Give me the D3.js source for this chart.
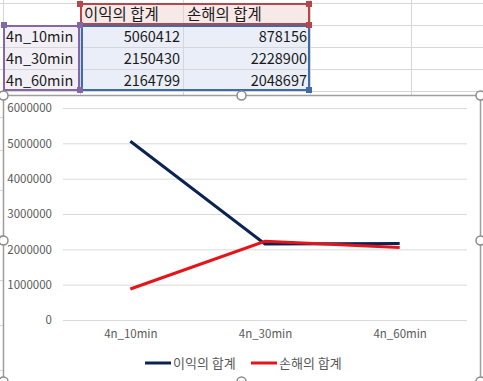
<!DOCTYPE html>
<html><head><meta charset="utf-8">
<script src="https://cdn.jsdelivr.net/npm/d3@7"></script>
<style>
html,body{margin:0;padding:0;background:#fff;overflow:hidden}
svg{display:block}
</style></head>
<body>
<svg id="c" width="483" height="381"></svg>
<script>
const categories = ["4n_10min", "4n_30min", "4n_60min"];
const seriesNames = ["이익의 합계", "손해의 합계"];
const profit = [5060412, 2150430, 2164799];
const loss = [878156, 2228900, 2048697];
const yTicks = [0, 1000000, 2000000, 3000000, 4000000, 5000000, 6000000];
const colors = ["#0b2352", "#e3151b"];

const svg = d3.select("#c");
const font = "'Noto Sans CJK KR','Noto Sans',sans-serif";

// ---- spreadsheet background ----
const colX = [3, 80, 183, 310, 411];
const rowY = [3, 25, 47, 69, 91];
const sheet = svg.append("g");
sheet.append("rect").attr("x", colX[1]).attr("y", rowY[0]).attr("width", colX[3]-colX[1]).attr("height", rowY[1]-rowY[0]).attr("fill", "#f8e9e9");
sheet.append("rect").attr("x", colX[0]).attr("y", rowY[1]).attr("width", colX[1]-colX[0]).attr("height", rowY[4]-rowY[1]).attr("fill", "#f2eff6");
sheet.append("rect").attr("x", colX[1]).attr("y", rowY[1]).attr("width", colX[3]-colX[1]).attr("height", rowY[4]-rowY[1]).attr("fill", "#e9eef8");
[0,1,2,3,4].forEach(i => sheet.append("line").attr("x1", 0).attr("x2", 483).attr("y1", rowY[i]+0.5).attr("y2", rowY[i]+0.5).attr("stroke", "#d6d6d6"));
colX.forEach(x => sheet.append("line").attr("x1", x+0.5).attr("x2", x+0.5).attr("y1", 0).attr("y2", 95).attr("stroke", "#d6d6d6"));
[117,150,190,235,280,325,370].forEach(y => sheet.append("line").attr("x1", 0).attr("x2", 3).attr("y1", y+0.5).attr("y2", y+0.5).attr("stroke", "#d6d6d6"));

function rangeBox(x0, y0, x1, y1, col) {
  sheet.append("rect").attr("x", x0).attr("y", y0).attr("width", x1-x0).attr("height", y1-y0)
    .attr("fill", "none").attr("stroke", col).attr("stroke-width", 2);
}
rangeBox(colX[1]+1, rowY[0]+1, colX[3]-1, rowY[1]-1, "#b4474a");
rangeBox(colX[0]+1, rowY[1]+1, colX[1]-1, rowY[4]-1, "#8467a8");
rangeBox(colX[1]+2, rowY[1]+1, colX[3]-1, rowY[4]-1, "#3f6ca8");
function handle(x, y, col) {
  sheet.append("rect").attr("x", x-3).attr("y", y-3).attr("width", 6).attr("height", 6).attr("fill", col);
}
handle(colX[1], rowY[0]+1, "#b4474a"); handle(colX[3]-1, rowY[0]+1, "#b4474a");
handle(colX[1], rowY[1], "#b4474a"); handle(colX[3]-1, rowY[1], "#b4474a");
handle(colX[0]+1, rowY[1], "#8467a8"); handle(colX[1], rowY[1], "#8467a8");
handle(colX[1], rowY[4]-1, "#8467a8");
handle(colX[3]-1, rowY[4]-1, "#3f6ca8");

const cellFont = 14.5;
seriesNames.forEach((s, i) => {
  sheet.append("text").attr("x", colX[i+1]+4).attr("y", rowY[0]+17).text(s)
    .attr("font-family", font).attr("font-size", 15.5).attr("fill", "#1a1a1a");
});
categories.forEach((c, r) => {
  const yy = rowY[r+1]+16.5;
  sheet.append("text").attr("x", colX[0]+3).attr("y", yy).text(c)
    .attr("font-family", font).attr("font-size", cellFont).attr("fill", "#1a1a1a");
  [profit, loss].forEach((arr, i) => {
    sheet.append("text").attr("x", colX[i+2]-3).attr("y", yy).attr("text-anchor", "end").text(arr[r])
      .attr("font-family", font).attr("font-size", cellFont).attr("fill", "#1a1a1a");
  });
});

// ---- chart frame ----
const fx0 = 3, fy0 = 95, fx1 = 480, fy1 = 381;
svg.append("rect").attr("x", fx0+0.5).attr("y", fy0+0.5).attr("width", fx1-fx0).attr("height", fy1-fy0+10)
  .attr("fill", "#fff").attr("stroke", "#9e9e9e").attr("stroke-width", 1.5);

// ---- plot ----
const x = d3.scalePoint().domain(categories).range([63, 467]).padding(0.5);
const y = d3.scaleLinear().domain([0, 6000000]).range([320, 108]);

const yAxis = svg.append("g").attr("transform", "translate(63,0)")
  .call(d3.axisLeft(y).tickValues(yTicks).tickSize(-404).tickPadding(11).tickFormat(d3.format("d")));
yAxis.select(".domain").remove();
yAxis.selectAll(".tick line").attr("stroke", "#d9d9d9");
yAxis.selectAll("text").attr("font-family", font).attr("font-size", 11.5).attr("fill", "#595959");

const xAxis = svg.append("g").attr("transform", "translate(0,320)")
  .call(d3.axisBottom(x).tickSize(0).tickPadding(10));
xAxis.select(".domain").remove();
xAxis.selectAll("text").attr("font-family", font).attr("font-size", 11.5).attr("fill", "#595959");

const line = d3.line().x((d, i) => x(categories[i])).y(d => y(d));
[profit, loss].forEach((arr, i) => {
  svg.append("path").datum(arr).attr("d", line).attr("fill", "none")
    .attr("stroke", colors[i]).attr("stroke-width", 3);
});

// ---- legend ----
const legX = [145, 251];
seriesNames.forEach((s, i) => {
  svg.append("line").attr("x1", legX[i]).attr("x2", legX[i]+26).attr("y1", 363).attr("y2", 363)
    .attr("stroke", colors[i]).attr("stroke-width", 3);
  svg.append("text").attr("x", legX[i]+28).attr("y", 368).text(s)
    .attr("font-family", font).attr("font-size", 13).attr("fill", "#595959");
});

// ---- selection handles ----
[[fx0, fy0], [241, fy0], [fx1, fy0], [fx0, 240], [fx1, 240], [fx0, 381], [241, 381], [fx1, 381]].forEach(([hx, hy]) => {
  svg.append("circle").attr("cx", hx+0.5).attr("cy", hy+0.5).attr("r", 4.5)
    .attr("fill", "#fff").attr("stroke", "#8c8c8c").attr("stroke-width", 1.5);
});
</script>
</body></html>
